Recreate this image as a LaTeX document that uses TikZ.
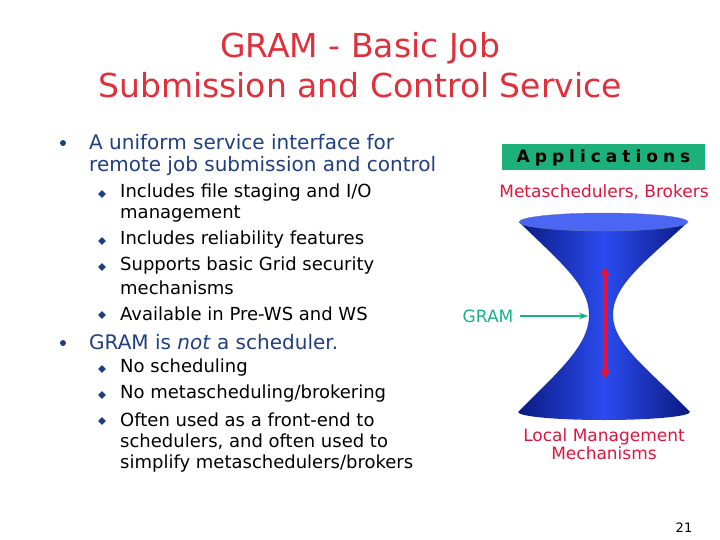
\documentclass[tikz,border=0pt]{standalone}
\usepackage{fontspec}
\setmainfont{DejaVu Sans}
\usetikzlibrary{arrows.meta,shapes.geometric}
\definecolor{titlered}{HTML}{E0303C}
\definecolor{navy}{HTML}{1F3F7F}
\definecolor{appgreen}{HTML}{1DB07C}
\definecolor{labred}{HTML}{E0143C}
\definecolor{teal}{HTML}{18B08A}
\definecolor{cone}{HTML}{2B4BF0}
\definecolor{conedark}{HTML}{0A1A80}
\tikzset{
  title/.style={text=titlered,font=\fontsize{33}{40}\selectfont,align=center},
  lvlone/.style={anchor=west,text=navy,font=\fontsize{20}{24}\selectfont,inner sep=0pt},
  lvltwo/.style={anchor=west,text=black,font=\fontsize{18}{21.5}\selectfont,inner sep=0pt},
  dot/.style={circle,fill=navy,inner sep=0pt,minimum size=6pt},
  dia/.style={diamond,fill=navy,inner sep=0pt,minimum size=8pt},
  lab/.style={text=labred,font=\fontsize{17}{17}\selectfont,inner sep=0pt}
}
\begin{document}
\begin{tikzpicture}[x=1pt,y=-1pt]
\useasboundingbox (0,0) rectangle (720,540);
\node[title] (t) at (360,65) {GRAM - Basic Job\\Submission and Control Service};
\node[dot] (b1) at (63,143) {};
\node[lvlone] (l1) at (89,142) {A uniform service interface for};
\node[lvlone] (l1b) at (89,166) {remote job submission and control};
\node[dot] (b2) at (63,343) {};
\node[lvlone] (l2) at (89,342) {GRAM is \textit{not} a scheduler.};
\foreach \y/\t/\d in {193/{Includes file staging and I/O}/1,214/{management}/0,240/{Includes reliability features}/1,266/{Supports basic Grid security}/1,288/{mechanisms}/0,314/{Available in Pre-WS and WS}/1,368/{No scheduling}/1,394/{No metascheduling/brokering}/1,420/{Often used as a front-end to}/1,442/{schedulers, and often used to}/0,464/{simplify metaschedulers/brokers}/0}{
  \node[lvltwo] (s\y) at (120,\y) {\t};
  \ifnum\d=1 \node[dia] (d\y) at (102,\y+1) {};\fi
}
\node[fill=appgreen,minimum width=203pt,minimum height=26pt,inner sep=0pt,font=\bfseries\fontsize{17}{17}\selectfont] (app) at (603.5,157.5) {A\hspace{5pt}p\hspace{5pt}p\hspace{5pt}l\hspace{5pt}i\hspace{5pt}c\hspace{5pt}a\hspace{5pt}t\hspace{5pt}i\hspace{5pt}o\hspace{5pt}n\hspace{5pt}s};
\node[lab] (meta) at (604,192) {Metaschedulers, Brokers};
\shade[left color=conedark,right color=conedark,middle color=cone]
  (519,222) .. controls (560,262) and (589,285) .. (589,315)
  .. controls (589,345) and (560,370) .. (518,412)
  arc[start angle=180,end angle=0,x radius=86,y radius=8]
  .. controls (650,370) and (613,345) .. (613,315)
  .. controls (613,285) and (645,262) .. (688,222) -- cycle;
\fill[cone!85!white,draw=conedark!60,line width=0.4pt] (603.5,222) ellipse[x radius=84.5,y radius=9];
\node[inner sep=0pt] (top) at (605,266) {};
\node[inner sep=0pt] (bot) at (605,380) {};
\draw[labred,line width=3pt,{Triangle[length=9pt,width=9pt]}-{Triangle[length=9pt,width=9pt]}] (top) -- (bot);
\node[text=teal,font=\fontsize{17}{17}\selectfont,inner sep=0pt] (gram) at (488,316) {GRAM};
\coordinate (waist) at (588,316);
\draw[teal,line width=1.2pt,-{Stealth[length=9pt]}] (520,316) -- (waist);
\node[lab,align=center,font=\fontsize{17}{13}\selectfont] (loc) at (604,444) {Local Management\\Mechanisms};
\node[font=\fontsize{13}{13}\selectfont] (pg) at (684,528) {21};
\end{tikzpicture}
\end{document}
